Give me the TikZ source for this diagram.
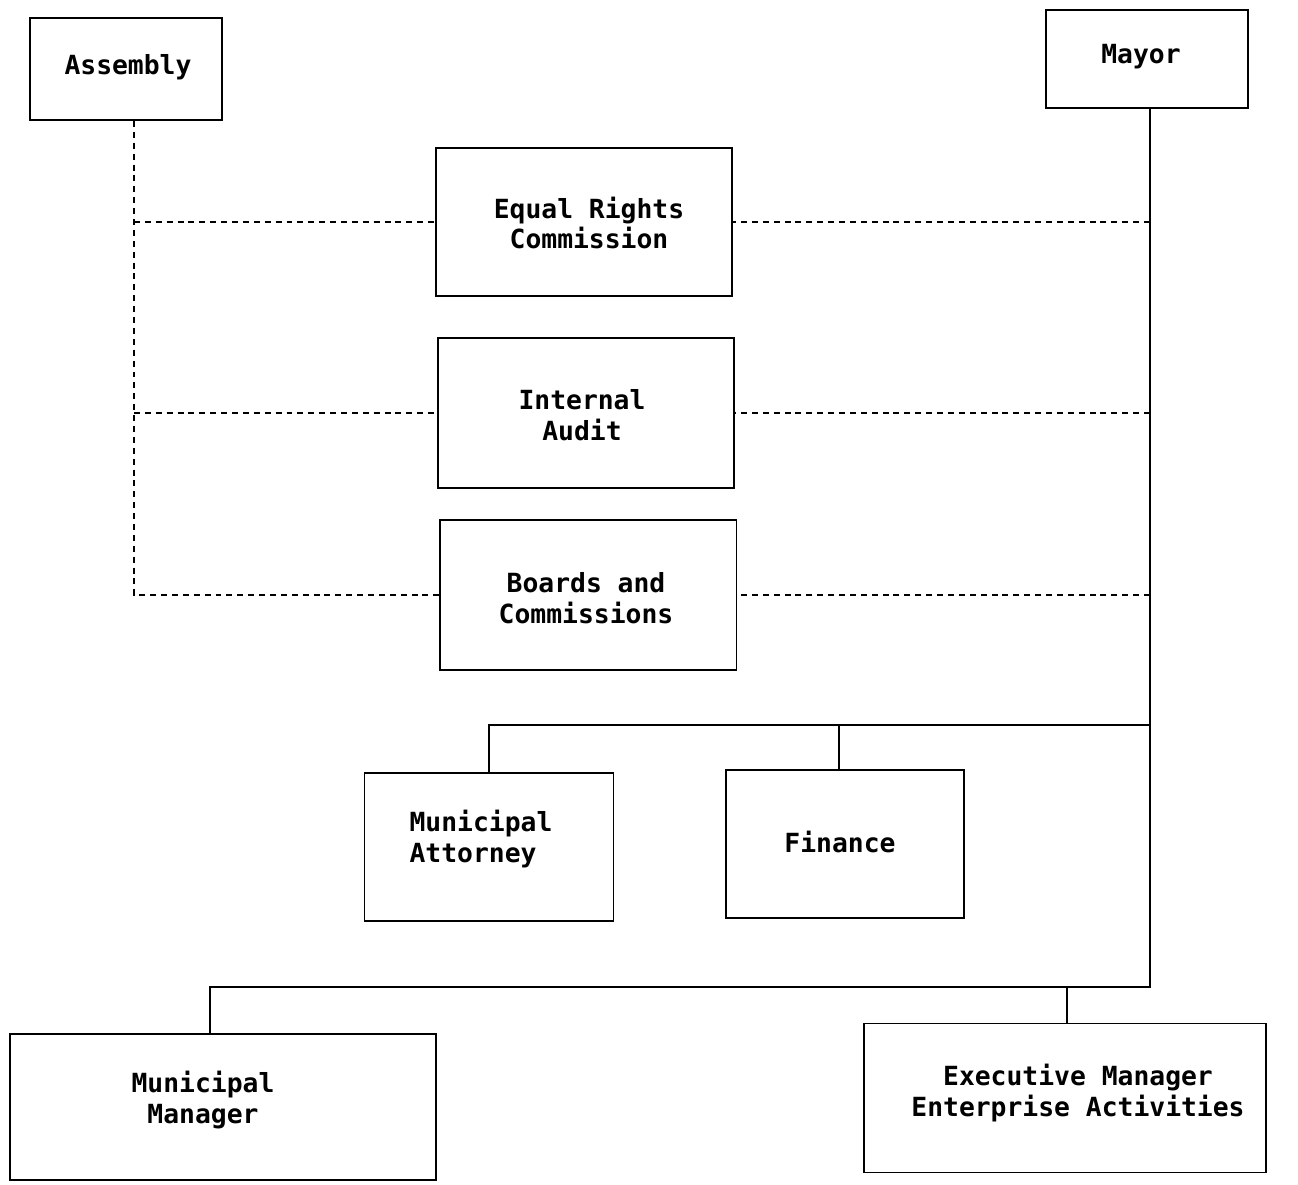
\documentclass[tikz,border=0pt]{standalone}
\usepackage{fontspec}
\newfontfamily\chartfont{DejaVu Sans Mono}
\begin{document}
\begin{tikzpicture}[x=0.02cm,y=-0.02cm,
  box/.style={draw, line width=1.1pt, inner sep=0pt},
  lbl/.style={font=\chartfont\bfseries\fontsize{15pt}{17.6pt}\selectfont, inner sep=0pt},
  solidline/.style={line width=1.1pt},
  dashline/.style={line width=1.1pt, dash pattern=on 3.4pt off 2.8pt}]
\useasboundingbox (0,0) rectangle (1298,1184);
% boxes
\node[box, minimum width=3.84cm, minimum height=2.04cm] (asm) at (126,69) {};
\node[box, minimum width=4.04cm, minimum height=1.96cm] (mayor) at (1147,59) {};
\node[box, minimum width=5.92cm, minimum height=2.96cm] (erc) at (584,222) {};
\node[box, minimum width=5.92cm, minimum height=3.00cm] (ia) at (586,413) {};
\node[box, minimum width=5.94cm, minimum height=3.00cm] (bc) at (588,595) {};
\node[box, minimum width=4.98cm, minimum height=2.96cm] (matty) at (489,847) {};
\node[box, minimum width=4.76cm, minimum height=2.96cm] (fin) at (845,844) {};
\node[box, minimum width=8.54cm, minimum height=2.92cm] (mm) at (223,1107) {};
\node[box, minimum width=8.04cm, minimum height=2.98cm] (exec) at (1065,1098) {};
% labels
\node[lbl] (asm-t) at (128,67) {Assembly};
\node[lbl] (mayor-t) at (1141,57) {Mayor};
\node[lbl, align=center] (erc-t) at (589,223) {Equal Rights\\Commission};
\node[lbl, align=center] (ia-t) at (582,415) {Internal\\Audit};
\node[lbl, align=center] (bc-t) at (586,598) {Boards and\\Commissions};
\node[lbl, align=left] (matty-t) at (481,839) {Municipal\\Attorney};
\node[lbl] (fin-t) at (840,842) {Finance};
\node[lbl, align=center] (mm-t) at (203,1100) {Municipal\\Manager};
\node[lbl, align=center] (exec-t) at (1078,1093) {Executive Manager\\Enterprise Activities};
% helper coordinates
\coordinate (ax) at (134,0);
\coordinate (mx) at (1150,0);
\coordinate (s1) at (0,725);
\coordinate (s2) at (0,987);
\coordinate (fx) at (839,0);
\coordinate (mmx) at (210,0);
\coordinate (ex) at (1067,0);
% assembly dashed links
\draw[dashline] (ax |- asm.south) -- (ax |- bc.west) -- (bc.west);
\draw[dashline] (ax |- erc.west) -- (erc.west);
\draw[dashline] (ax |- ia.west) -- (ia.west);
% mayor trunk
\draw[solidline] (mx |- mayor.south) -- (mx |- s2) -- (mmx |- s2) -- (mmx |- mm.north);
\draw[solidline] (ex |- s2) -- (ex |- exec.north);
% dashed links to mayor line
\draw[dashline] (mx |- erc.east) -- (erc.east);
\draw[dashline] (mx |- ia.east) -- (ia.east);
\draw[dashline] (mx |- bc.east) -- (bc.east);
% staff offices
\draw[solidline] (mx |- s1) -- (matty.north |- s1) -- (matty.north);
\draw[solidline] (fx |- s1) -- (fx |- fin.north);
\end{tikzpicture}
\end{document}
